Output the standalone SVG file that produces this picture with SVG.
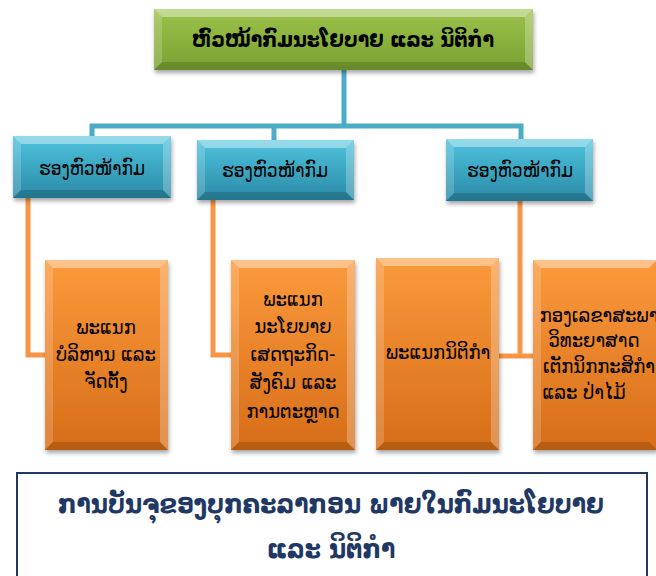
<svg xmlns="http://www.w3.org/2000/svg" width="656" height="576" viewBox="0 0 656 576">
<defs>
<linearGradient id="gGreen" x1="0" y1="0" x2="0" y2="1"><stop offset="0" stop-color="#9cc24a"/><stop offset="1" stop-color="#7aa232"/></linearGradient>
<linearGradient id="gBlue" x1="0" y1="0" x2="0" y2="1"><stop offset="0" stop-color="#4fc3de"/><stop offset="1" stop-color="#2a8aa6"/></linearGradient>
<linearGradient id="gOrange" x1="0" y1="0" x2="0" y2="1"><stop offset="0" stop-color="#fb9a3c"/><stop offset="1" stop-color="#d66d18"/></linearGradient>
<filter id="sh" x="-10%" y="-10%" width="130%" height="140%"><feDropShadow dx="1" dy="3" stdDeviation="2" flood-color="#000" flood-opacity="0.35"/></filter>
</defs>
<style>
.green{fill:url(#gGreen)}
.blue{fill:url(#gBlue)}
.orange{fill:url(#gOrange)}
.bt{fill:#fff;fill-opacity:.4}
.bl{fill:#fff;fill-opacity:.18}
.bb{fill:#000;fill-opacity:.15}
.br{fill:#fff;fill-opacity:.25}
.cb{fill:none;stroke:#4bacc6;stroke-width:5}
.co{fill:none;stroke:#f79646;stroke-width:5}
text{font-family:"DejaVu Sans Condensed","DejaVu Sans","Noto Sans",sans-serif;text-anchor:middle;fill:#000}
.t1{font-size:21px;font-weight:bold}
.t2{font-size:19px}
.t3{font-size:20px}
.t4{font-size:26px;font-weight:bold;fill:#1f3864}
</style>
<g id="connectors">
<path class="cb" d="M344,70 V126 M92,136 V126 H521 V139 M274,126 V140"/>
<path class="co" d="M28,198 V355 H45 M213,200 V355 H231 M520,201 V356 M499,356 H533"/>
</g>
<g id="top">
<rect class="green" x="154" y="9" width="379" height="61" filter="url(#sh)"/>
<polygon class="bt" points="154,9 533,9 525,17 162,17"/>
<polygon class="bl" points="154,9 162,17 162,62 154,70"/>
<polygon class="bb" points="154,70 162,62 525,62 533,70"/>
<polygon class="br" points="533,9 533,70 525,62 525,17"/>
<text class="t1" x="343" y="47">ຫົວໜ້າກົມນະໂຍບາຍ ແລະ ນິຕິກຳ</text>
</g>
<g id="dep1">
<rect class="blue" x="13" y="136" width="158" height="62" filter="url(#sh)"/>
<polygon class="bt" points="13,136 171,136 163,144 21,144"/>
<polygon class="bl" points="13,136 21,144 21,190 13,198"/>
<polygon class="bb" points="13,198 21,190 163,190 171,198"/>
<polygon class="br" points="171,136 171,198 163,190 163,144"/>
<text class="t2" x="92" y="175">ຮອງຫົວໜ້າກົມ</text>
</g>
<g id="dep2">
<rect class="blue" x="197" y="140" width="157" height="60" filter="url(#sh)"/>
<polygon class="bt" points="197,140 354,140 346,148 205,148"/>
<polygon class="bl" points="197,140 205,148 205,192 197,200"/>
<polygon class="bb" points="197,200 205,192 346,192 354,200"/>
<polygon class="br" points="354,140 354,200 346,192 346,148"/>
<text class="t2" x="275" y="177">ຮອງຫົວໜ້າກົມ</text>
</g>
<g id="dep3">
<rect class="blue" x="446" y="139" width="147" height="62" filter="url(#sh)"/>
<polygon class="bt" points="446,139 593,139 585,147 454,147"/>
<polygon class="bl" points="446,139 454,147 454,193 446,201"/>
<polygon class="bb" points="446,201 454,193 585,193 593,201"/>
<polygon class="br" points="593,139 593,201 585,193 585,147"/>
<text class="t2" x="520" y="177">ຮອງຫົວໜ້າກົມ</text>
</g>
<g id="div1">
<rect class="orange" x="45" y="260" width="123" height="190" filter="url(#sh)"/>
<polygon class="bt" points="45,260 168,260 160,268 53,268"/>
<polygon class="bl" points="45,260 53,268 53,442 45,450"/>
<polygon class="bb" points="45,450 53,442 160,442 168,450"/>
<polygon class="br" points="168,260 168,450 160,442 160,268"/>
<text class="t3" x="106" y="334">ພະແນກ</text>
<text class="t3" x="106" y="361">ບໍລິຫານ ແລະ</text>
<text class="t3" x="106" y="388">ຈັດຕັ້ງ</text>
</g>
<g id="div2">
<rect class="orange" x="231" y="260" width="124" height="190" filter="url(#sh)"/>
<polygon class="bt" points="231,260 355,260 347,268 239,268"/>
<polygon class="bl" points="231,260 239,268 239,442 231,450"/>
<polygon class="bb" points="231,450 239,442 347,442 355,450"/>
<polygon class="br" points="355,260 355,450 347,442 347,268"/>
<text class="t3" x="293" y="306">ພະແນກ</text>
<text class="t3" x="293" y="333">ນະໂຍບາຍ</text>
<text class="t3" x="293" y="361">ເສດຖະກິດ-</text>
<text class="t3" x="293" y="389">ສັງຄົມ ແລະ</text>
<text class="t3" x="293" y="418">ການຕະຫຼາດ</text>
</g>
<g id="div3">
<rect class="orange" x="376" y="258" width="123" height="192" filter="url(#sh)"/>
<polygon class="bt" points="376,258 499,258 491,266 384,266"/>
<polygon class="bl" points="376,258 384,266 384,442 376,450"/>
<polygon class="bb" points="376,450 384,442 491,442 499,450"/>
<polygon class="br" points="499,258 499,450 491,442 491,266"/>
<text class="t3" x="438" y="359">ພະແນກນິຕິກຳ</text>
</g>
<g id="div4">
<rect class="orange" x="533" y="260" width="124" height="190" filter="url(#sh)"/>
<polygon class="bt" points="533,260 657,260 649,268 541,268"/>
<polygon class="bl" points="533,260 541,268 541,442 533,450"/>
<polygon class="bb" points="533,450 541,442 649,442 657,450"/>
<text class="t3" x="599" y="322">ກອງເລຂາສະພາ</text>
<text class="t3" x="594" y="347">ວິທະຍາສາດ</text>
<text class="t3" x="599" y="373">ເຕັກນິກກະສິກຳ</text>
<text class="t3" x="584" y="399">ແລະ ປ່າໄມ້</text>
</g>
<g id="caption">
<rect x="17" y="473" width="630" height="110" fill="#fff" stroke="#1f3864" stroke-width="2"/>
<text class="t4" x="331" y="513">ການບັນຈຸຂອງບຸກຄະລາກອນ ພາຍໃນກົມນະໂຍບາຍ</text>
<text class="t4" x="331" y="558">ແລະ ນິຕິກຳ</text>
</g>
</svg>
